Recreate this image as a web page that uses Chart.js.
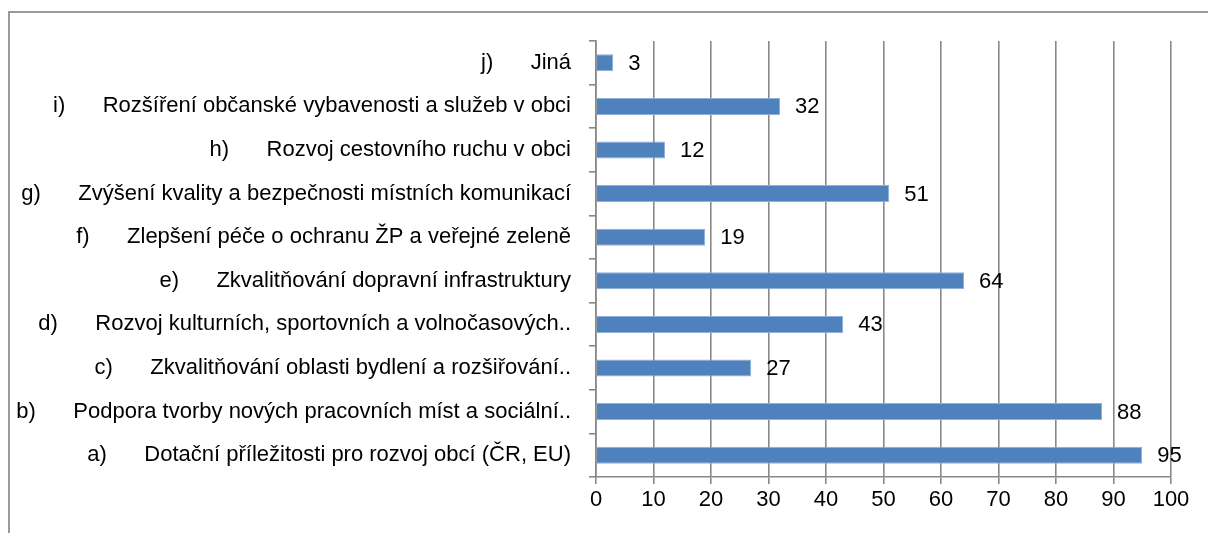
<!DOCTYPE html>
<html>
<head>
<meta charset="utf-8">
<script src="https://cdn.jsdelivr.net/npm/chart.js@4/dist/chart.umd.min.js"></script>
<style>
  html, body { margin: 0; padding: 0; background: #fff; }
  #wrap { position: relative; width: 1208px; height: 533px; overflow: hidden; }
  #frame {
    position: absolute; left: 8px; top: 11px;
    width: 1400px; height: 800px;
    border-left: 2px solid #9a9a9a; border-top: 2px solid #9a9a9a;
  }
  canvas { position: absolute; left: 0; top: 0; }
</style>
</head>
<body>
<div id="wrap">
  <div id="frame"></div>
  <canvas id="chart" width="1208" height="533"></canvas>
</div>
<script>
// categories, top to bottom as drawn
const letters = ['j)', 'i)', 'h)', 'g)', 'f)', 'e)', 'd)', 'c)', 'b)', 'a)'];
const categories = [
  'Jiná',
  'Rozšíření občanské vybavenosti a služeb v obci',
  'Rozvoj cestovního ruchu v obci',
  'Zvýšení kvality a bezpečnosti místních komunikací',
  'Zlepšení péče o ochranu ŽP a veřejné zeleně',
  'Zkvalitňování dopravní infrastruktury',
  'Rozvoj kulturních, sportovních a volnočasových..',
  'Zkvalitňování oblasti bydlení a rozšiřování..',
  'Podpora tvorby nových pracovních míst a sociální..',
  'Dotační příležitosti pro rozvoj obcí (ČR, EU)'
];
const values = [3, 32, 12, 51, 19, 64, 43, 27, 88, 95];
const xTicks = [0, 10, 20, 30, 40, 50, 60, 70, 80, 90, 100];

const FONT = '"Liberation Sans", Arial, sans-serif';
const labels = categories.map((c, i) => letters[i] + '\u2003\u2002\u2009' + c);

// value labels to the right of each bar
const barValues = {
  id: 'barValues',
  afterDatasetsDraw(chart) {
    const ctx = chart.ctx;
    const meta = chart.getDatasetMeta(0);
    ctx.save();
    ctx.font = '22px ' + FONT;
    ctx.fillStyle = '#000';
    ctx.textAlign = 'left';
    ctx.textBaseline = 'middle';
    meta.data.forEach((bar, i) => {
      ctx.fillText(String(values[i]), bar.x + 15, bar.y + 1);
    });
    ctx.restore();
  }
};

new Chart(document.getElementById('chart'), {
  type: 'bar',
  data: {
    labels: labels,
    datasets: [{
      data: values,
      backgroundColor: '#4f81bd',
      borderColor: '#8fb0d8',
      borderWidth: 1,
      barPercentage: 0.39,
      categoryPercentage: 1
    }]
  },
  options: {
    indexAxis: 'y',
    responsive: false,
    animation: false,
    layout: { padding: { top: 41, right: 37, left: 0, bottom: 0 } },
    plugins: {
      legend: { display: false },
      tooltip: { enabled: false }
    },
    scales: {
      x: {
        min: 0,
        max: 100,
        afterBuildTicks: (scale) => { scale.ticks = xTicks.map(v => ({ value: v })); },
        afterFit: (scale) => { scale.height = 56; },
        grid: {
          color: '#888888',
          lineWidth: 1.6,
          tickLength: 7
        },
        border: { color: '#888888', width: 1.6 },
        ticks: {
          color: '#000',
          font: { family: FONT, size: 22 },
          padding: 3,
          maxRotation: 0
        }
      },
      y: {
        afterFit: (scale) => { scale.width = 596; },
        grid: {
          offset: true,
          drawOnChartArea: false,
          color: '#888888',
          lineWidth: 1.6,
          tickLength: 7
        },
        border: { color: '#888888', width: 1.6 },
        ticks: {
          color: '#000',
          font: { family: FONT, size: 22 },
          padding: 18,
          autoSkip: false
        }
      }
    }
  },
  plugins: [barValues]
});
</script>
</body>
</html>
